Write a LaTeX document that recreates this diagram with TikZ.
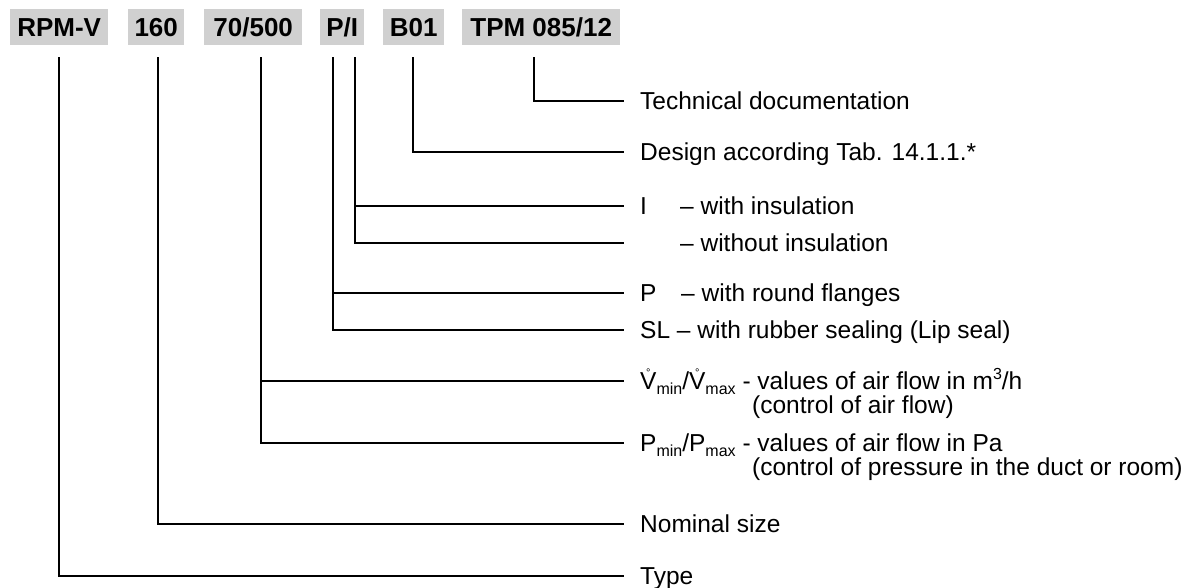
\documentclass[tikz,border=0pt]{standalone}
\usepackage{fontspec}
\setmainfont{Liberation Sans}
\definecolor{hdrgray}{RGB}{208,208,208}
\newcommand\lsub[1]{\raisebox{-0.2em}{\fontsize{16}{16}\selectfont #1}}
\newcommand\lsup[1]{\raisebox{0.42em}{\fontsize{16}{16}\selectfont #1}}
\newcommand\Vring{\ooalign{V\cr\hidewidth\raisebox{0.55em}{\fontsize{11}{11}\selectfont °}\hidewidth\cr}}
\begin{document}
\begin{tikzpicture}[x=1pt,y=-1pt,
  hdr/.style={fill=hdrgray, font=\fontsize{26}{26}\selectfont\bfseries, inner sep=0pt,
    minimum height=36pt, text height=18.6pt, text depth=0pt, anchor=west},
  lbl/.style={font=\fontsize{24.5}{28}\selectfont, anchor=west, inner ysep=0pt, inner xsep=0pt,
    text height=17.5pt, text depth=0pt},
  sub2/.style={font=\fontsize{24.5}{28}\selectfont, anchor=west, inner sep=0pt,
    text height=17.5pt, text depth=0pt},
  conn/.style={line width=2pt, line cap=rect}]
\useasboundingbox (0,0) rectangle (1186,587);

% header boxes
\node[hdr, minimum width=98pt]  (hRPM) at (10,27)  {RPM-V};
\node[hdr, minimum width=56pt]  (h160) at (128,27) {160};
\node[hdr, minimum width=98pt]  (h70)  at (204,27) {70/500};
\node[hdr, minimum width=44pt]  (hPI)  at (320,27) {P/I};
\node[hdr, minimum width=61pt]  (hB01) at (383,27) {B01};
\node[hdr, minimum width=158pt] (hTPM) at (462,27) {TPM 085/12};

% start points of the leaders
\coordinate (vRPM) at (59,58);
\coordinate (v160) at (158,58);
\coordinate (v70)  at (261,58);
\coordinate (vP)   at (333,58);
\coordinate (vI)   at (355,58);
\coordinate (vB01) at (413,58);
\coordinate (vTPM) at (534,58);

% labels
\node[lbl] (lTech)   at (640,101) {Technical documentation};
\node[lbl] (lDesign) at (640,152) {Design according Tab. 14.1.1.*};
\node[lbl] (lI)      at (640,206) {\makebox[40pt][l]{I}– with insulation};
\node[lbl] (lWo)     at (640,243) {\makebox[40pt][l]{}– without insulation};
\node[lbl] (lP)      at (640,293) {\makebox[41pt][l]{P}– with round flanges};
\node[lbl] (lSL)     at (640,330) {SL – with rubber sealing (Lip seal)};
\node[lbl] (lV)      at (640,381) {\Vring\lsub{min}/\Vring\lsub{max} - values of air flow in m\lsup{3}/h};
\node[sub2] (lV2)    at (752,405) {(control of air flow)};
\node[lbl] (lPm)     at (640,443) {P\lsub{min}/P\lsub{max} - values of air flow in Pa};
\node[sub2] (lPm2)   at (752,467) {(control of pressure in the duct or room)};
\node[lbl] (lNom)    at (640,524) {Nominal size};
\node[lbl] (lType)   at (640,576) {Type};

% connectors
\draw[conn] (vTPM) |- ([xshift=-17pt]lTech.west);
\draw[conn] (vB01) |- ([xshift=-17pt]lDesign.west);
\draw[conn] (vI) |- ([xshift=-17pt]lWo.west);
\draw[conn] (vI |- lI.west) -- ([xshift=-17pt]lI.west);
\draw[conn] (vP) |- ([xshift=-17pt]lSL.west);
\draw[conn] (vP |- lP.west) -- ([xshift=-17pt]lP.west);
\draw[conn] (v70) |- ([xshift=-17pt]lPm.west);
\draw[conn] (v70 |- lV.west) -- ([xshift=-17pt]lV.west);
\draw[conn] (v160) |- ([xshift=-17pt]lNom.west);
\draw[conn] (vRPM) |- ([xshift=-17pt]lType.west);
\end{tikzpicture}
\end{document}
